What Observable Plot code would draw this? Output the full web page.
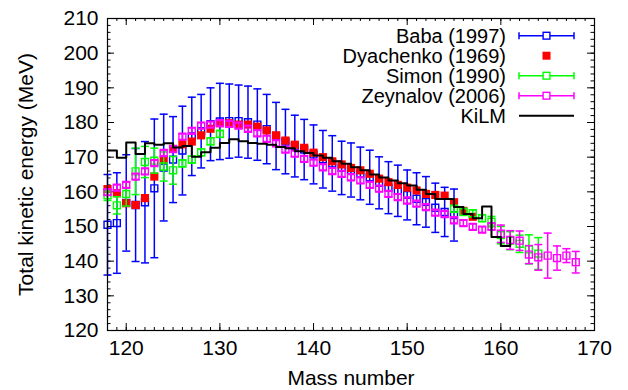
<!DOCTYPE html>
<html><head><meta charset="utf-8">
<script src="https://cdn.jsdelivr.net/npm/d3@7"></script>
<script src="https://cdn.jsdelivr.net/npm/@observablehq/plot@0.6"></script>
<style>body{margin:0;background:#fff;} svg{display:block}</style>
</head><body><div id="chart"></div>
<script>
// ---- data ----
const babaMass = [118,119,120,121,122,123,124,125,126,127,128,129,130,131,132,133,134,135,136,137,138,139,140,141,142,143,144,145,146,147,148,149,150,151,152,153,154,155];
const babaTKE  = [150.5,151.0,156.8,156.2,157.0,161.0,167.0,169.3,171.9,176.0,177.5,179.5,180.3,180.4,180.4,180.1,179.4,178.1,176.1,174.5,173.2,172.2,170.8,169.4,168.2,166.9,166.3,165.3,164.2,162.6,161.2,160.3,159.1,158.0,157.1,155.4,154.2,153.3];
const babaErr  = [14.5,14.5,13.9,16.3,17.5,20.0,15.4,12.4,12.8,11.3,10.6,10.5,11.0,10.7,10.4,10.4,10.3,10.0,9.7,9.3,8.9,8.7,8.5,8.3,8.0,7.7,7.8,7.6,7.8,7.5,7.5,7.4,7.2,7.5,7.3,7.1,7.1,7.5];

const dyaMass = [118,119,120,121,122,123,124,125,126,127,128,129,130,131,132,133,134,135,136,137,138,139,140,141,142,143,144,145,146,147,148,149,150,151,152,153,154,155,156,157];
const dyaTKE  = [160.8,159.6,156.7,156.2,158.2,164.4,169.2,172.4,173.7,174.5,176.3,178.2,179.8,179.8,179.4,179.4,178.8,177.7,176.3,174.8,173.6,172.7,171.3,170.0,168.8,167.9,166.9,166.2,165.2,163.8,162.8,162.0,161.2,160.4,159.4,159.1,158.9,157.0,154.5,152.8];

const simMass = [118,119,120,121,122,123,124,125,126,127,128,129,130,155,156,157,158,159,160,161,162,163,164];
const simTKE  = [159.0,156.1,159.4,165.9,168.6,169.0,167.3,166.2,168.2,169.3,171.4,174.6,176.7,155.1,154.2,153.8,152.4,151.4,147.5,145.9,145.0,143.4,142.2];
const simErr  = [1.5,2.5,3.5,6.7,4.5,3.6,4.2,4.0,1.0,1.0,1.0,1.0,1.0,1.0,1.0,1.0,1.0,1.5,2.5,2.6,2.5,4.2,4.6];

const zeyMass = [118,119,120,121,122,123,124,125,126,127,128,129,130,131,132,133,134,135,136,137,138,139,140,141,142,143,144,145,146,147,148,149,150,151,152,153,154,155,156,157,158,159,160,161,162,163,164,165,166,167,168];
const zeyTKE  = [159.9,161.2,162.0,164.4,165.9,168.3,171.2,172.3,175.9,177.6,179.1,179.4,179.8,179.6,179.1,178.2,176.9,175.3,174.0,172.2,171.0,169.5,168.4,167.1,166.0,165.2,164.2,163.3,162.0,160.9,159.4,158.5,157.5,156.6,155.6,154.0,153.6,151.8,151.0,149.9,149.1,150.0,147.9,146.1,145.9,141.9,141.1,141.6,140.9,141.6,139.7];
const zeyErr  = [0.8,0.8,0.8,0.8,0.8,0.8,0.8,0.8,0.8,0.8,0.8,0.8,0.8,0.8,0.8,0.8,0.8,0.8,0.8,0.8,0.8,0.8,0.8,0.8,0.8,0.8,0.8,0.8,0.8,0.8,0.8,0.8,0.8,0.8,0.8,0.8,0.8,0.8,0.8,0.8,0.8,1.0,2.5,2.7,2.8,2.6,3.7,6.5,3.5,2.0,3.1];

const kilmMass = [118,119,120,121,122,123,124,125,126,127,128,129,130,131,132,133,134,135,136,137,138,139,140,141,142,143,144,145,146,147,148,149,150,151,152,153,154,155,156,157,158,159,160,161];
const kilmTKE  = [171.9,169.8,174.2,170.9,174.0,173.6,174.0,172.8,173.2,170.1,171.4,172.7,174.1,175.2,174.6,174.1,173.9,173.6,172.9,172.6,171.7,171.2,170.5,169.8,168.8,168.1,167.1,166.2,165.0,164.1,163.3,162.5,161.8,160.6,159.4,157.9,157.9,155.6,153.6,152.4,155.8,147.0,144.4,146.9];

const seriesNames = ["Baba (1997)","Dyachenko (1969)","Simon (1990)","Zeynalov (2006)","KiLM"];
const seriesColors = ["#0000ff","#ff0000","#00ff00","#ff00ff","#000000"];
const xMajor = [120,130,140,150,160,170];
const yMajor = [120,130,140,150,160,170,180,190,200,210];
const xDomain = [118,170];
const yDomain = [120,210];
const xLabel = "Mass number";
const yLabel = "Total kinetic energy (MeV)";

// ---- layout ----
const W = 628, H = 390, mL = 107, mR = 34, mT = 18, mB = 60;
const FS = 21, LFS = 20;
const pxX = (W - mL - mR) / (xDomain[1] - xDomain[0]);
const pxY = (H - mT - mB) / (yDomain[1] - yDomain[0]);
const capHalf = 4 / pxX;
const FONT = "'Liberation Sans', Arial, Helvetica, sans-serif";

const xMinor = d3.range(xDomain[0], xDomain[1] + 0.001, 1);
const yMinor = d3.range(yDomain[0], yDomain[1] + 0.001, 2);

function ticksMarks() {
  const marks = [];
  const add = (vals, len, orient) => {
    if (orient === "x") {
      marks.push(Plot.ruleX(vals, {x: d => d, y1: yDomain[0], y2: yDomain[0] + len / pxY, stroke: "#000", strokeWidth: 1}));
      marks.push(Plot.ruleX(vals, {x: d => d, y1: yDomain[1], y2: yDomain[1] - len / pxY, stroke: "#000", strokeWidth: 1}));
    } else {
      marks.push(Plot.ruleY(vals, {y: d => d, x1: xDomain[0], x2: xDomain[0] + len / pxX, stroke: "#000", strokeWidth: 1}));
      marks.push(Plot.ruleY(vals, {y: d => d, x1: xDomain[1], x2: xDomain[1] - len / pxX, stroke: "#000", strokeWidth: 1}));
    }
  };
  add(xMinor, 3, "x"); add(xMajor, 7, "x");
  add(yMinor, 3.5, "y"); add(yMajor, 7, "y");
  return marks;
}

function errMarks(mass, val, err, color) {
  const idx = d3.range(mass.length);
  return [
    Plot.ruleX(idx, {x: i => mass[i], y1: i => val[i] - err[i], y2: i => val[i] + err[i], stroke: color, strokeWidth: 1.5}),
    Plot.link(idx, {x1: i => mass[i] - capHalf, x2: i => mass[i] + capHalf, y1: i => val[i] - err[i], y2: i => val[i] - err[i], stroke: color, strokeWidth: 1.5}),
    Plot.link(idx, {x1: i => mass[i] - capHalf, x2: i => mass[i] + capHalf, y1: i => val[i] + err[i], y2: i => val[i] + err[i], stroke: color, strokeWidth: 1.5}),
    Plot.dot(idx, {x: i => mass[i], y: i => val[i], symbol: "square", r: 3.9, stroke: color, strokeWidth: 1.4, fill: "none"})
  ];
}

const dyaIdx = d3.range(dyaMass.length);
const kilmIdx = d3.range(kilmMass.length);

const chart = Plot.plot({
  width: W, height: H,
  marginLeft: mL, marginRight: mR, marginTop: mT, marginBottom: mB,
  style: {fontFamily: FONT, fontSize: FS + "px", background: "#fff", color: "#000"},
  x: {domain: xDomain, label: null},
  y: {domain: yDomain, label: null},
  marks: [
    Plot.axisX(xMajor, {tickSize: 0, tickPadding: 10, fontSize: FS, label: null, fill: "#000"}),
    Plot.axisY(yMajor, {tickSize: 0, tickPadding: 9, fontSize: FS, label: null, fill: "#000"}),
    ...ticksMarks(),
    ...errMarks(babaMass, babaTKE, babaErr, seriesColors[0]),
    Plot.dot(dyaIdx, {x: i => dyaMass[i], y: i => dyaTKE[i], symbol: "square", r: 4.6, fill: seriesColors[1], stroke: "none"}),
    ...errMarks(simMass, simTKE, simErr, seriesColors[2]),
    ...errMarks(zeyMass, zeyTKE, zeyErr, seriesColors[3]),
    Plot.line(kilmIdx, {x: i => kilmMass[i], y: i => kilmTKE[i], curve: "step-after", stroke: seriesColors[4], strokeWidth: 2}),
    Plot.frame({stroke: "#000", strokeWidth: 1.2}),
    Plot.text([xLabel], {frameAnchor: "bottom", dy: 48, textAnchor: "middle", lineAnchor: "middle", fontSize: FS, fill: "#000"}),
    Plot.text([yLabel], {frameAnchor: "left", dx: -81, rotate: -90, textAnchor: "middle", lineAnchor: "middle", fontSize: FS, fill: "#000"})
  ]
});
document.getElementById("chart").appendChild(chart);

// ---- legend (inside plot, top right) ----
const svg = d3.select(chart.tagName.toLowerCase() === "svg" ? chart : chart.querySelector("svg"));
const lg = svg.append("g").attr("font-family", FONT).attr("font-size", LFS);
const textX = 506, lineX1 = 519, lineX2 = 574, markX = 546.5, row0 = 35.7, rowH = 20;
seriesNames.forEach((name, i) => {
  const y = row0 + i * rowH;
  lg.append("text").attr("x", textX).attr("y", y).attr("dy", "0.36em").attr("text-anchor", "end").attr("fill", "#000").text(name);
  const c = seriesColors[i];
  if (i === 0 || i === 2 || i === 3) {
    lg.append("line").attr("x1", lineX1).attr("x2", lineX2).attr("y1", y).attr("y2", y).attr("stroke", c).attr("stroke-width", 1.5);
    lg.append("line").attr("x1", lineX1).attr("x2", lineX1).attr("y1", y - 3.5).attr("y2", y + 3.5).attr("stroke", c).attr("stroke-width", 1.5);
    lg.append("line").attr("x1", lineX2).attr("x2", lineX2).attr("y1", y - 3.5).attr("y2", y + 3.5).attr("stroke", c).attr("stroke-width", 1.5);
    lg.append("rect").attr("x", markX - 3.4).attr("y", y - 3.4).attr("width", 6.8).attr("height", 6.8).attr("fill", "#fff").attr("stroke", c).attr("stroke-width", 1.4);
  } else if (i === 1) {
    lg.append("rect").attr("x", markX - 4).attr("y", y - 4).attr("width", 8).attr("height", 8).attr("fill", c);
  } else {
    lg.append("line").attr("x1", lineX1).attr("x2", lineX2).attr("y1", y).attr("y2", y).attr("stroke", c).attr("stroke-width", 2);
  }
});
</script></body></html>
